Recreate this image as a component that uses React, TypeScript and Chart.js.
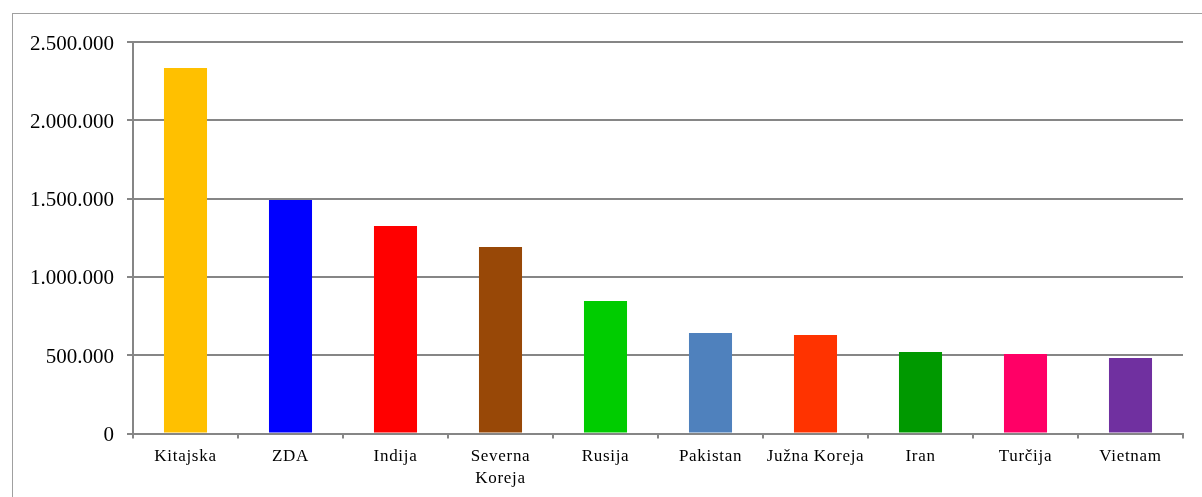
import React, { useEffect, useRef } from 'react';
import { Chart, registerables } from 'chart.js';

Chart.register(...registerables);

const categories: (string | string[])[] = [
  'Kitajska',
  'ZDA',
  'Indija',
  ['Severna', 'Koreja'],
  'Rusija',
  'Pakistan',
  'Južna Koreja',
  'Iran',
  'Turčija',
  'Vietnam',
];
const values = [2334000, 1491000, 1325000, 1191000, 846000, 642000, 629000, 520000, 508000, 482000];
const barColors = ['#FFC000', '#0000FF', '#FF0000', '#984807', '#00CC00', '#4F81BD', '#FF3300', '#009900', '#FF0066', '#7030A0'];
const yMin = 0;
const yMax = 2500000;
const yStep = 500000;

const formatThousands = (v: number) => String(Math.round(v)).replace(/\B(?=(\d{3})+(?!\d))/g, '.');

const labelTweaks = {
  id: 'labelTweaks',
  beforeDraw(chart: any) {
    const xs: any = chart.scales.x;
    if (xs && !xs.__patched) {
      const orig = xs.drawLabels.bind(xs);
      xs.drawLabels = (area: any) => {
        const ctx: any = chart.ctx;
        ctx.save();
        ctx.letterSpacing = '0.7px';
        orig(area);
        ctx.restore();
      };
      xs.__patched = true;
    }
    const ys: any = chart.scales.y;
    if (ys && !ys.__patched) {
      const orig = ys.drawLabels.bind(ys);
      ys.drawLabels = (area: any) => {
        const ctx: any = chart.ctx;
        ctx.save();
        ctx.translate(0, 2);
        orig(area);
        ctx.restore();
      };
      ys.__patched = true;
    }
  },
};

export default function App() {
  const ref = useRef<HTMLCanvasElement | null>(null);

  useEffect(() => {
    if (!ref.current) return;
    const gridColor = '#868686';
    const chart = new Chart(ref.current, {
      type: 'bar',
      data: {
        labels: categories,
        datasets: [
          {
            data: values,
            backgroundColor: barColors,
            borderWidth: 0,
            categoryPercentage: 1,
            barPercentage: 0.41,
          },
        ],
      },
      options: {
        responsive: false,
        animation: false,
        events: [],
        layout: { padding: { left: 0, right: 19, top: 28, bottom: 0 } },
        plugins: { legend: { display: false }, tooltip: { enabled: false } },
        scales: {
          x: {
            afterFit: (s: any) => {
              s.height = 63.5;
            },
            grid: {
              display: true,
              drawOnChartArea: false,
              drawTicks: true,
              tickLength: 5,
              color: gridColor,
              lineWidth: 2,
              offset: true,
            },
            border: { display: true, color: gridColor, width: 2 },
            ticks: {
              color: '#000000',
              padding: 7,
              maxRotation: 0,
              minRotation: 0,
              autoSkip: false,
              font: { family: '"Liberation Serif", "Times New Roman", serif', size: 17, lineHeight: '22px' },
            },
          },
          y: {
            min: yMin,
            max: yMax,
            afterFit: (s: any) => {
              s.width = 120;
            },
            grid: {
              color: gridColor,
              lineWidth: 2,
              drawTicks: true,
              tickLength: 6,
            },
            border: { display: true, color: gridColor, width: 2 },
            ticks: {
              stepSize: yStep,
              color: '#000000',
              padding: 13,
              font: { family: '"Liberation Serif", "Times New Roman", serif', size: 21 },
              callback: (v: any) => formatThousands(Number(v)),
            },
          },
        },
      },
      plugins: [labelTweaks],
    });
    return () => chart.destroy();
  }, []);

  return (
    <div
      style={{
        position: 'fixed',
        left: 12,
        top: 13,
        width: 1190,
        height: 484,
        boxSizing: 'border-box',
        borderTop: '1px solid #A0A0A0',
        borderLeft: '1px solid #A0A0A0',
        background: '#FFFFFF',
        overflow: 'hidden',
      }}
    >
      <canvas ref={ref} width={1189} height={483} style={{ display: 'block' }} />
    </div>
  );
}
